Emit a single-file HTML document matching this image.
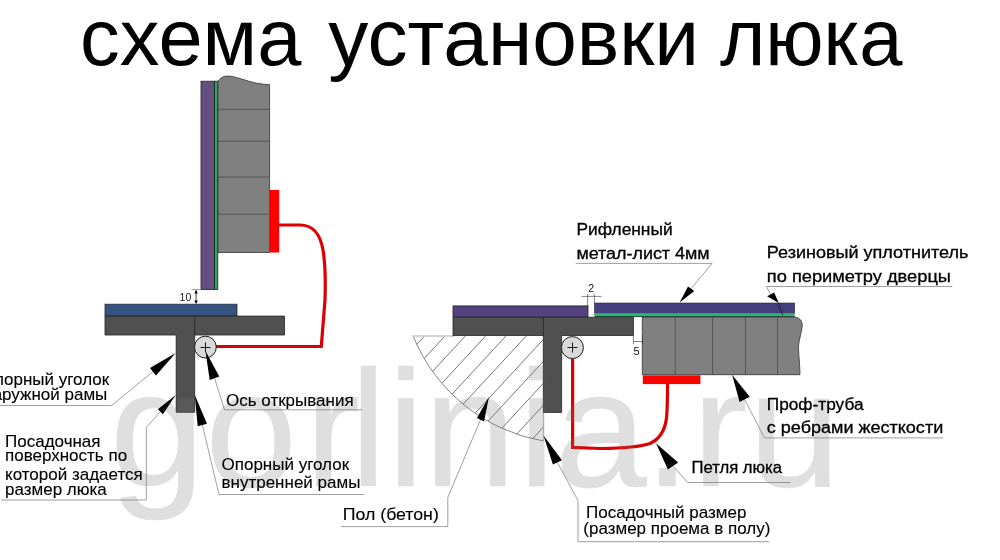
<!DOCTYPE html>
<html><head><meta charset="utf-8">
<style>
html,body{margin:0;padding:0;background:#fff;width:1000px;height:560px;overflow:hidden}
svg{display:block;will-change:transform}
text{font-family:"Liberation Sans",sans-serif}
</style></head>
<body>
<svg width="1000" height="560" viewBox="0 0 1000 560">
<defs>
<clipPath id="hc"><path d="M413,335.7 L543.4,335.7 L543.4,441 A172.2,172.2 0 0 1 413,335.7 Z"/></clipPath>
</defs>
<rect width="1000" height="560" fill="#fff"/>
<!-- watermark -->


<!-- title -->
<g font-size="79" fill="#000"><text x="80" y="64.8" textLength="221.3" lengthAdjust="spacingAndGlyphs">схема</text><text x="328.3" y="64.8" textLength="370.8" lengthAdjust="spacingAndGlyphs">установки</text><text x="720" y="64.8" textLength="182.5" lengthAdjust="spacingAndGlyphs">люка</text></g>

<!-- ============ LEFT DIAGRAM ============ -->
<rect x="201" y="81.2" width="13.4" height="208.4" fill="#634f82" stroke="#222" stroke-width="0.8"/>
<rect x="214.6" y="81.2" width="3.2" height="208.4" fill="#33a066" stroke="#0b2a14" stroke-width="0.8"/>
<path d="M218,81.2 C222,76 226,75.5 232,76.5 C245,79 252,84 269.6,84.7 L269.6,252.5 L218,252.5 Z" fill="#808080" stroke="#333" stroke-width="0.8"/>
<g stroke="#444" stroke-width="0.7">
<line x1="218" y1="109.3" x2="269.6" y2="109.3"/>
<line x1="218" y1="141.2" x2="269.6" y2="141.2"/>
<line x1="218" y1="177" x2="269.6" y2="177"/>
<line x1="218" y1="214.2" x2="269.6" y2="214.2"/>
</g>
<rect x="269.6" y="190" width="9.6" height="62.5" fill="#ff0000"/>
<path d="M279,225 L300,225 C313,225 320,233 323,250 C325,262 325.5,285 325,300 L321.3,346.5 L216,346.5" fill="none" stroke="#dc0000" stroke-width="3.2"/>

<!-- dim 10 -->
<line x1="191.6" y1="289.6" x2="201" y2="289.6" stroke="#777" stroke-width="0.7"/>
<line x1="196.1" y1="291" x2="196.1" y2="302.5" stroke="#000" stroke-width="0.7"/>
<path d="M194.4,293.5 L196.1,289.8 L197.8,293.5 Z M194.4,300.6 L196.1,304 L197.8,300.6 Z" fill="#000"/>
<text x="179.6" y="300.7" font-size="10.5" fill="#222">10</text>

<rect x="105" y="304.2" width="132" height="11.9" fill="#36547f" stroke="#1c2a40" stroke-width="0.8"/>
<path d="M105,316.1 L284.5,316.1 L284.5,335 L194.7,335 L194.7,412.3 L176.2,412.3 L176.2,335 L105,335 Z" fill="#505050" stroke="#222" stroke-width="0.8"/>
<line x1="194.7" y1="316.1" x2="194.7" y2="335" stroke="#222" stroke-width="0.8"/>
<circle cx="205.4" cy="347.1" r="10.9" fill="#d9d9d9" stroke="#1a1a1a" stroke-width="1"/>
<path d="M200.5,347.5 H210.5 M205.5,342.4 V352.4" stroke="#1a1a1a" stroke-width="1"/>

<!-- ============ RIGHT DIAGRAM ============ -->
<!-- hatch -->
<g clip-path="url(#hc)" stroke="#555" stroke-width="0.8">
<line x1="425.0" y1="335.7" x2="314.0" y2="455.7"/>
<line x1="445.3" y1="335.7" x2="334.3" y2="455.7"/>
<line x1="465.6" y1="335.7" x2="354.6" y2="455.7"/>
<line x1="485.9" y1="335.7" x2="374.9" y2="455.7"/>
<line x1="506.2" y1="335.7" x2="395.2" y2="455.7"/>
<line x1="526.5" y1="335.7" x2="415.5" y2="455.7"/>
<line x1="546.8" y1="335.7" x2="435.8" y2="455.7"/>
<line x1="567.1" y1="335.7" x2="456.1" y2="455.7"/>
<line x1="587.4" y1="335.7" x2="476.4" y2="455.7"/>
<line x1="607.7" y1="335.7" x2="496.7" y2="455.7"/>
<line x1="628.0" y1="335.7" x2="517.0" y2="455.7"/>
<line x1="648.3" y1="335.7" x2="537.3" y2="455.7"/>
<line x1="668.6" y1="335.7" x2="557.6" y2="455.7"/>
</g>
<path d="M543.4,441 A172.2,172.2 0 0 1 413,335.7" fill="none" stroke="#666" stroke-width="0.8"/>
<line x1="413" y1="336" x2="455" y2="336" stroke="#c8c8c8" stroke-width="1.4"/>
<line x1="543.4" y1="412" x2="543.4" y2="441" stroke="#888" stroke-width="0.6"/>

<rect x="453" y="305.9" width="135" height="11.3" fill="#54417f" stroke="#222" stroke-width="0.8"/>
<rect x="594.4" y="303" width="200.3" height="10.4" fill="#453f80" stroke="#2a2650" stroke-width="0.6"/>
<rect x="594.4" y="313.3" width="200.3" height="3" fill="#20bd76"/>
<line x1="594.4" y1="316.6" x2="794.7" y2="316.6" stroke="#0c2a14" stroke-width="0.9"/>
<path d="M453,317.2 L633.4,317.2 L633.4,335.5 L561.6,335.5 L561.6,412.4 L543.3,412.4 L543.3,335.5 L453,335.5 Z" fill="#505050" stroke="#222" stroke-width="0.8"/>
<line x1="543.3" y1="317.2" x2="543.3" y2="335.5" stroke="#222" stroke-width="0.8"/>
<circle cx="572.4" cy="347.6" r="11" fill="#d9d9d9" stroke="#1a1a1a" stroke-width="1"/>
<path d="M567.5,347.5 H577.5 M572.5,342.5 V352.5" stroke="#1a1a1a" stroke-width="1"/>

<path d="M642.3,317 L794.6,317 C801,318 803,322 802,328 C800,338 798,345 798.6,350 C799,358 800,368 800,374.7 L642.3,374.7 Z" fill="#808080" stroke="#333" stroke-width="0.8"/>
<g stroke="#444" stroke-width="0.7">
<line x1="675.3" y1="317" x2="675.3" y2="374.7"/>
<line x1="712.6" y1="317" x2="712.6" y2="374.7"/>
<line x1="745.4" y1="317" x2="745.4" y2="374.7"/>
<line x1="777.5" y1="317" x2="777.5" y2="374.7"/>
</g>
<rect x="642.8" y="375.3" width="57.6" height="8.8" fill="#ff0000"/>
<path d="M572.6,359 L572.6,447.4 L600,448.5 C625,448.2 640,447 650,443.5 C660,439 665,430 666.5,418 C667.5,408 667.5,395 667.5,384" fill="none" stroke="#dc0000" stroke-width="3.2"/>

<!-- dim 2 -->
<g stroke="#333" stroke-width="0.6">
<line x1="587.6" y1="294" x2="587.6" y2="305.9"/>
<line x1="594.4" y1="294" x2="594.4" y2="303.2"/>
<line x1="581.4" y1="296.4" x2="601.4" y2="296.4"/>
</g>
<text x="588.2" y="292.2" font-size="10.6" fill="#111">2</text>
<!-- dim 5 -->
<g stroke="#333" stroke-width="0.6">
<line x1="633.4" y1="335" x2="633.4" y2="344"/>
<line x1="642.5" y1="335" x2="642.5" y2="344"/>
<line x1="633.4" y1="341.5" x2="642.5" y2="341.5"/>
</g>
<text x="633.6" y="355.2" font-size="11" fill="#111">5</text>

<g opacity="0.23"><text x="109.8" y="486" font-size="165" fill="#777" stroke="#777" stroke-width="0.7" textLength="95" lengthAdjust="spacingAndGlyphs">g</text><text x="205.2 305.1 350 387.6 424 518.6 555 644.6 692.3 748.4" y="486" font-size="165" fill="#777" stroke="#777" stroke-width="0.7">orlinia.ru</text></g>
<!-- ============ LABELS & LEADERS ============ -->
<g stroke="#777" stroke-width="0.7" fill="none">
<polyline points="0,405.5 111.6,405.5 153,371.6"/>
<polyline points="1,500 146.3,500 146.3,427.5 160.4,411.8"/>
<polyline points="362,409.8 224.5,409.8 214.5,378"/>
<polyline points="364,494.5 219,494.5 202.4,425"/>
<polyline points="341,526.6 447.8,526.6 447.8,497.5 480.5,419.7"/>
<polyline points="769,541.7 578,541.7 578,500.6 557.4,462.3"/>
<polyline points="790.4,482.5 687.6,482.5 673,466"/>
<polyline points="943.2,437.9 764.4,437.9 744.6,399.4"/>
<polyline points="575.6,263.4 712.1,263.4 691,288.8"/>
<polyline points="952.3,286.5 766.4,286.5 770.6,294.4"/>
</g>
<g stroke="#222" stroke-width="0.6" fill="none"><path d="M776.5,303 L782.5,314.8 M779,303 L782.5,314.8"/></g>
<g fill="#000">
<path d="M175.7,352.9 L150,367.9 L156,375.4 Z"/>
<path d="M175.7,395 L157.9,409.3 L162.9,414.3 Z"/>
<path d="M205.4,350.7 L209.7,380 L219.3,376.4 Z"/>
<path d="M194.7,394.8 L197.7,426.3 L207,423.8 Z"/>
<path d="M488.9,397 L476.9,417.9 L484.1,421.6 Z"/>
<path d="M543.5,435.6 L552.9,464.5 L562,460.2 Z"/>
<path d="M656,443.3 L667.9,469.6 L678.1,462.6 Z"/>
<path d="M732.1,374.7 L739.6,402.1 L749.7,396.8 Z"/>
<path d="M679.6,302.6 L688,286.5 L694.3,291.1 Z"/>
<path d="M778.8,303 L767.1,296.3 L774.1,292.5 Z"/>
</g>

<g fill="#000" font-size="17" stroke="#000" stroke-width="0.12">
<text x="109.2" y="384.7" text-anchor="end">Опорный уголок</text>
<text x="107.3" y="399.7" text-anchor="end">наружной рамы</text>
<text x="5" y="447">Посадочная</text>
<text x="5" y="461.3">поверхность по</text>
<text x="5" y="480.2">которой задается</text>
<text x="5" y="495">размер люка</text>
<text x="226" y="406">Ось открывания</text>
<text x="221.5" y="470">Опорный уголок</text>
<text x="221.5" y="488">внутренней рамы</text>
<text x="342.8" y="520.4" font-size="16" textLength="96" lengthAdjust="spacingAndGlyphs">Пол (бетон)</text>
<text x="586" y="517.5">Посадочный размер</text>
<text x="583.3" y="533.6">(размер проема в полу)</text>
</g>
<g fill="#000" font-size="16" stroke="#000" stroke-width="0.3">
<text x="576.4" y="235" textLength="96.2" lengthAdjust="spacingAndGlyphs">Рифленный</text>
<text x="576.4" y="258.6" textLength="133.2" lengthAdjust="spacingAndGlyphs">метал-лист 4мм</text>
<text x="766.8" y="258.1" textLength="201.6" lengthAdjust="spacingAndGlyphs">Резиновый уплотнитель</text>
<text x="766.8" y="281.6" textLength="184.2" lengthAdjust="spacingAndGlyphs">по периметру дверцы</text>
<text x="766.8" y="409.6" textLength="96.7" lengthAdjust="spacingAndGlyphs">Проф-труба</text>
<text x="766.8" y="432.9" textLength="176.4" lengthAdjust="spacingAndGlyphs">с ребрами жесткости</text>
<text x="691.5" y="472.7" textLength="90.5" lengthAdjust="spacingAndGlyphs">Петля люка</text>
</g>

</svg>
</body></html>
